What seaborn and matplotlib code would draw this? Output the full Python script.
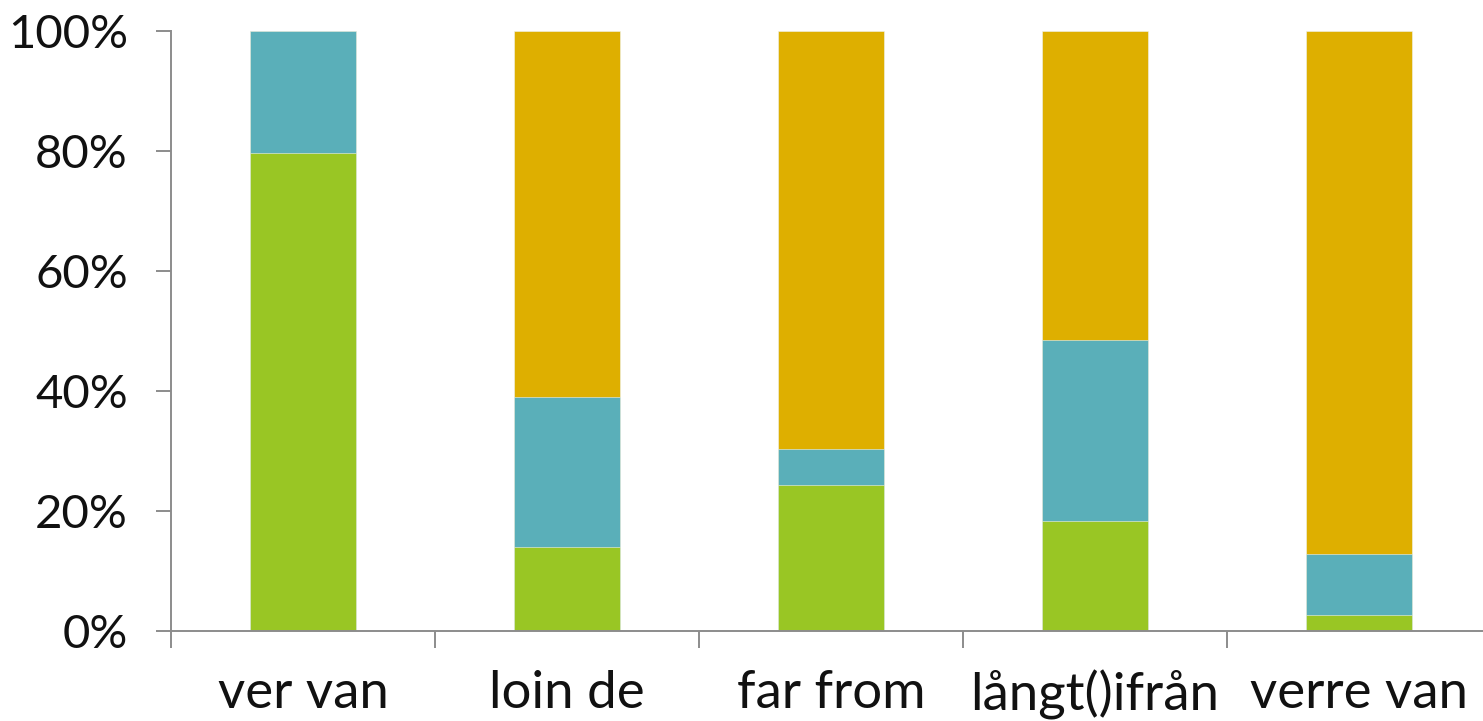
import matplotlib
matplotlib.use("Agg")
import matplotlib.pyplot as plt
import seaborn as sns
import pandas as pd
from matplotlib.ticker import FixedLocator, PercentFormatter

categories = ["ver van", "loin de", "far from", "långt()ifrån", "verre van"]
green_vals = [79.7, 14.0, 24.4, 18.3, 2.7]
teal_vals = [20.3, 25.0, 5.9, 30.2, 10.2]
orange_vals = [0.0, 61.0, 69.7, 51.5, 87.1]

colors = {"green": "#99C624", "teal": "#5AAFB9", "orange": "#DEAF00"}

df = pd.DataFrame({
    "category": categories,
    "green": green_vals,
    "teal": teal_vals,
    "orange": orange_vals,
})
df["cum_green"] = df["green"]
df["cum_teal"] = df["green"] + df["teal"]
df["cum_orange"] = df["cum_teal"] + df["orange"]

sns.set_style("white")
plt.rcParams["font.family"] = ["Lato", "DejaVu Sans"]

fig = plt.figure(figsize=(14.83, 7.21), dpi=100)
ax = fig.add_axes([171 / 1483, 90 / 721, 1320 / 1483, 600 / 721])

# stacked bars: draw cumulative totals from the top segment down
for col, key in [("cum_orange", "orange"), ("cum_teal", "teal"), ("cum_green", "green")]:
    sns.barplot(data=df, x="category", y=col, color=colors[key], width=0.4,
                saturation=1, edgecolor="#eef3f0", linewidth=0.4, ax=ax)

ax.set_xlim(-0.5, 4.5)
ax.set_ylim(0, 100)
ax.set_xlabel("")
ax.set_ylabel("")

spine_color = "#8c8c8c"
for s in ["top", "right"]:
    ax.spines[s].set_visible(False)
for s in ["left", "bottom"]:
    ax.spines[s].set_color(spine_color)
    ax.spines[s].set_linewidth(1.4)

ax.set_yticks([0, 20, 40, 60, 80, 100])
ax.yaxis.set_major_formatter(PercentFormatter(decimals=0))
ax.tick_params(axis="y", which="major", direction="out", length=11, width=1.4,
               color=spine_color, labelsize=34, pad=20, left=True)

ax.set_xticks(range(len(categories)))
ax.set_xticklabels(categories)
ax.xaxis.set_minor_locator(FixedLocator([i - 0.5 for i in range(len(categories) + 1)]))
ax.tick_params(axis="x", which="major", length=0, labelsize=38, pad=28, bottom=True)
ax.tick_params(axis="x", which="minor", direction="out", length=12, width=1.4,
               color=spine_color, bottom=True)

for lbl in ax.get_xticklabels() + ax.get_yticklabels():
    lbl.set_color("#111111")

fig.savefig("out.png", dpi=100)
